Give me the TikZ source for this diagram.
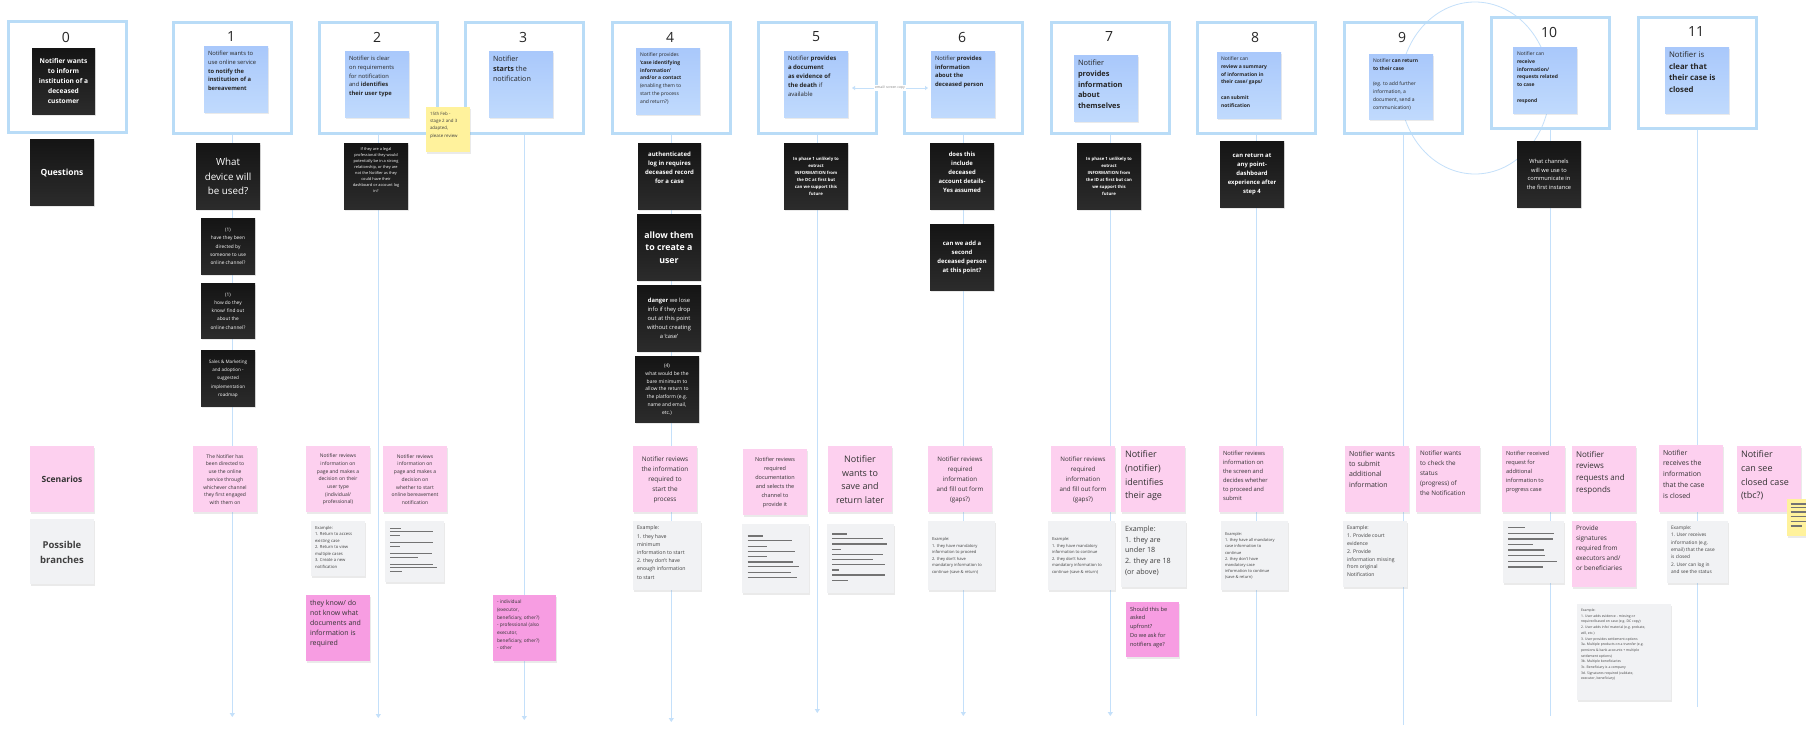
\documentclass[tikz,border=0pt]{standalone}
\usepackage{fontspec}
\setmainfont{Open Sans}
\usetikzlibrary{shadows,arrows.meta}
\definecolor{frameblue}{HTML}{B9DCF7}
\definecolor{lineblue}{HTML}{C4E0FA}
\definecolor{blueA}{HTML}{A9C8FB}
\definecolor{blueB}{HTML}{C0DAFD}
\definecolor{pinkA}{HTML}{FDD0EF}
\definecolor{hotpink}{HTML}{F79DE2}
\definecolor{grayN}{HTML}{F1F2F4}
\definecolor{yellowN}{HTML}{FFF29C}
\newcommand{\fs}[2]{\fontsize{#1}{#2}\selectfont}
\newcommand{\stk}[8]{\node[#1, anchor=north west, minimum width=#5pt, minimum height=#6pt, inner sep=0pt, outer sep=0pt] (#2) at (#3,#4) {\parbox[c][#6pt][#7]{#5pt}{\centering\vspace*{5pt}\parbox{\dimexpr#5pt-8pt\relax}{#8}\par\vspace*{4pt}}};}
\tikzset{
 frame/.style={draw=frameblue, line width=2.6pt, inner sep=0pt, anchor=north west, minimum width=118pt, minimum height=111pt},
 num/.style={font=\fs{14}{16}, text=black!85},
 tl/.style={draw=lineblue, line width=0.9pt},
 tla/.style={tl, -{Triangle[width=5pt,length=4pt]}},
 shd/.style={drop shadow={shadow xshift=0.6pt, shadow yshift=-1.6pt, opacity=0.16}},
 blk/.style={shd, top color=black!92, bottom color=black!83, text=white},
 blu/.style={shd, top color=blueA, bottom color=blueB, text=black!85},
 pnk/.style={shd, fill=pinkA, text=black!80},
 hpk/.style={shd, fill=hotpink, text=black!80},
 gry/.style={shd, fill=grayN, text=black!75},
 yel/.style={shd, fill=yellowN, text=black!75},
 ph/.style={draw=black!55, line width=1.1pt},
}
\begin{document}
\begin{tikzpicture}[x=1pt,y=-1pt]
\fill[white] (0,0) rectangle (1806,731);
\useasboundingbox (0,0) rectangle (1806,731);
% ellipse
\draw[tl, line width=0.8pt] (1475,88) ellipse [x radius=75pt, y radius=86pt];
% frames
\node[frame] (f0) at (7,20) {};
\node[frame] (f1) at (172,21) {};
\node[frame] (f2) at (318,21) {};
\node[frame] (f3) at (464,21) {};
\node[frame] (f4) at (611,21) {};
\node[frame] (f5) at (757,21) {};
\node[frame] (f6) at (903,21) {};
\node[frame] (f7) at (1050,21) {};
\node[frame] (f8) at (1196,21) {};
\node[frame] (f9) at (1343,21) {};
\node[frame] (f10) at (1490,16) {};
\node[frame] (f11) at (1637,16) {};
\node[num] (n0) at (66,37) {0};
\node[num] (n1) at (231,37) {1};
\node[num] (n2) at (377,37) {2};
\node[num] (n3) at (523,37) {3};
\node[num] (n4) at (670,37) {4};
\node[num] (n5) at (816,37) {5};
\node[num] (n6) at (962,37) {6};
\node[num] (n7) at (1109,37) {7};
\node[num] (n8) at (1255,37) {8};
\node[num] (n9) at (1402,37) {9};
\node[num] (n10) at (1549,32) {10};
\node[num] (n11) at (1696,32) {11};
% timeline ends
\coordinate (e1) at (0,717);
\coordinate (e2) at (0,718);
\coordinate (e3) at (0,720);
\coordinate (e4) at (0,722);
\coordinate (e5) at (0,713);
\coordinate (e6) at (0,716);
\coordinate (e7) at (0,716);
\coordinate (e8) at (0,716);
\coordinate (e9) at (0,725);
\coordinate (e10) at (0,716);
\coordinate (e11) at (0,707);
\draw[tla] (f1.south) -- (f1.south |- e1);
\draw[tla] (f2.south) -- (f2.south |- e2);
\draw[tla] (f3.south) -- (f3.south |- e3);
\draw[tla] (f4.south) -- (f4.south |- e4);
\draw[tla] (f5.south) -- (f5.south |- e5);
\draw[tla] (f6.south) -- (f6.south |- e6);
\draw[tla] (f7.south) -- (f7.south |- e7);
\draw[tl] (f8.south) -- (f8.south |- e8);
\draw[tl] (f9.south) -- (f9.south |- e9);
\draw[tl] (f10.south) -- (f10.south |- e10);
\draw[tl] (f11.south) -- (f11.south |- e11);
% top notes
\stk{blk}{b0}{32}{48}{63}{66}{c}{\centering\fs{6.6}{10}\bfseries Notifier wants\\to inform\\institution of a\\deceased\\customer}
\stk{blu}{b1}{204}{46}{64}{66}{t}{\raggedright\fs{5.8}{8.8}Notifier wants to\\use online service\\\textbf{to notify the\\institution of a\\bereavement}}
\stk{blu}{b2}{345}{51}{64}{66}{t}{\raggedright\fs{5.8}{8.8}Notifier is clear\\on requirements\\for notification\\and \textbf{identifies}\\\textbf{their user type}}
\stk{blu}{b3}{489}{51}{64}{66}{t}{\raggedright\fs{7.2}{10}Notifier\\\textbf{starts} the\\notification}
\stk{blu}{b4}{636}{48}{64}{66}{t}{\raggedright\fs{5}{7.7}Notifier provides\\\textbf{`case identifying}\\\textbf{information'}\\\textbf{and/or a contact}\\(enabling them to\\start the process\\and return?)}
\stk{blu}{b5}{784}{51}{64}{66}{t}{\raggedright\fs{6}{9}Notifier \textbf{provides}\\\textbf{a document}\\\textbf{as evidence of}\\\textbf{the death} if\\available}
\stk{blu}{b6}{931}{51}{64}{66}{t}{\raggedright\fs{5.8}{8.7}Notifier \textbf{provides}\\\textbf{information}\\\textbf{about the}\\\textbf{deceased person}}
\stk{blu}{b7}{1074}{55}{64}{66}{t}{\raggedright\fs{7.4}{10.7}Notifier\\\textbf{provides}\\\textbf{information}\\\textbf{about}\\\textbf{themselves}}
\stk{blu}{b8}{1217}{52}{64}{66}{t}{\raggedright\fs{5}{7.7}Notifier can\\\textbf{review a summary}\\\textbf{of information in}\\\textbf{their case/ gaps/}\\[7.7pt]\textbf{can submit}\\\textbf{notification}}
\stk{blu}{b9}{1369}{54}{64}{65}{t}{\raggedright\fs{5}{7.7}Notifier \textbf{can return}\\\textbf{to their case}\\[7.7pt](eg. to add further\\information, a\\document, send a\\communication)}
\stk{blu}{b10}{1513}{47}{64}{66}{t}{\raggedright\fs{5}{7.7}Notifier can\\\textbf{receive}\\\textbf{information/}\\\textbf{requests related}\\\textbf{to case}\\[7.7pt]\textbf{respond}}
\stk{blu}{b11}{1665}{47}{64}{66}{t}{\raggedright\fs{7.8}{11.5}Notifier is\\\textbf{clear that}\\\textbf{their case is}\\\textbf{closed}}
\stk{yel}{y1}{426}{107}{44}{45}{t}{\raggedright\fs{4.4}{7.3}15th Feb -\\stage 2 and 3\\adapted,\\please review}
\draw[tl, <->, >={Triangle[width=4pt,length=3pt]}] ([xshift=4pt,yshift=-4pt]b5.east) -- ([xshift=-3pt,yshift=-4pt]b6.west) node[midway, fill=white, inner sep=1pt, text=black!50, font=\fs{3.4}{4}] (lbl56) {email/ screen copy};
% questions
\stk{blk}{qs}{30}{139}{64}{66}{c}{\centering\fs{8.5}{11}\bfseries Questions}
\stk{blk}{q1a}{196}{143}{64}{66}{c}{\centering\fs{9.8}{14.3}What\\device will\\be used?}
\stk{blk}{q1b}{201}{218}{54}{56}{c}{\centering\fs{4.8}{8.3}(1)\\have they been\\directed by\\someone to use\\online channel?}
\stk{blk}{q1c}{201}{283}{54}{55}{c}{\centering\fs{4.8}{8.3}(1)\\how do they\\know/ find out\\about the\\online channel?}
\stk{blk}{q1d}{201}{350}{54}{56}{c}{\centering\fs{4.6}{8.3}Sales \& Marketing\\and adoption -\\suggested\\implementation\\roadmap}
\stk{blk}{q2}{344}{143}{64}{66}{t}{\centering\fs{3.9}{6}If they are a legal\\professional they would\\potentially be in a strong\\relationship, or they are\\not the Notifier as they\\could have their\\dashboard or account log\\in?}
\stk{blk}{q4a}{638}{143}{63}{66}{t}{\centering\fs{6}{9}\bfseries\vspace*{4pt}authenticated\\log in requires\\deceased record\\for a case}
\stk{blk}{q4b}{637}{214}{64}{66}{c}{\centering\fs{8.8}{12.7}\bfseries allow them\\to create a\\user}
\stk{blk}{q4c}{637}{285}{64}{66}{c}{\centering\fs{5.8}{9}\textbf{danger} we lose\\info if they drop\\out at this point\\without creating\\a `case'}
\stk{blk}{q4d}{635}{356}{64}{66}{c}{\centering\fs{5}{7.7}(4)\\what would be the\\bare minimum to\\allow the return to\\the platform (e.g.\\name and email,\\etc.)}
\stk{blk}{q5}{784}{143}{64}{66}{c}{\centering\fs{4.3}{7}\bfseries In phase 1 unlikely to\\extract\\INFORMATION from\\the DC at first but\\can we support this\\future}
\stk{blk}{q6a}{930}{143}{64}{66}{t}{\centering\fs{5.9}{9}\bfseries\vspace*{4pt}does this\\include\\deceased\\account details-\\Yes assumed}
\stk{blk}{q6b}{930}{224}{64}{66}{c}{\centering\fs{5.9}{9}\bfseries can we add a\\second\\deceased person\\at this point?}
\stk{blk}{q7}{1077}{143}{64}{66}{c}{\centering\fs{4.3}{7}\bfseries In phase 1 unlikely to\\extract\\INFORMATION from\\the ID at first but can\\we support this\\future}
\stk{blk}{q8}{1220}{141}{64}{66}{c}{\centering\fs{5.9}{9}\bfseries can return at\\any point-\\dashboard\\experience after\\step 4}
\stk{blk}{q10}{1517}{141}{64}{66}{c}{\centering\fs{5.7}{8.7}What channels\\will we use to\\communicate in\\the first instance}
% scenarios
\stk{pnk}{sc}{30}{446}{64}{66}{c}{\centering\fs{8.5}{12}\bfseries Scenarios}
\stk{gry}{pb}{30}{519}{64}{65}{c}{\centering\fs{9.5}{15}\bfseries Possible\\branches}
\stk{pnk}{s1}{193}{446}{64}{66}{c}{\centering\fs{5}{7.7}The Notifier has\\been directed to\\use the online\\service through\\whichever channel\\they first engaged\\with them on}
\stk{pnk}{s2a}{306}{446}{64}{66}{c}{\centering\fs{5}{7.7}Notifier reviews\\information on\\page and makes a\\decision on their\\user type\\(individual/\\professional)}
\stk{pnk}{s2b}{383}{446}{64}{66}{c}{\centering\fs{5}{7.7}Notifier reviews\\information on\\page and makes a\\decision on\\whether to start\\online bereavement\\notification}
\stk{pnk}{s4}{633}{446}{64}{66}{c}{\centering\fs{6.4}{10}Notifier reviews\\the information\\required to\\start the\\process}
\stk{pnk}{s5a}{743}{449}{64}{66}{c}{\centering\fs{5.5}{9}Notifier reviews\\required\\documentation\\and selects the\\channel to\\provide it}
\stk{pnk}{s5b}{828}{446}{64}{66}{c}{\centering\fs{9}{13.7}Notifier\\wants to\\save and\\return later}
\stk{pnk}{s6}{928}{446}{64}{66}{c}{\centering\fs{6.2}{10}Notifier reviews\\required\\information\\and fill out form\\(gaps?)}
\stk{pnk}{s7a}{1051}{446}{64}{66}{c}{\centering\fs{6.2}{10}Notifier reviews\\required\\information\\and fill out form\\(gaps?)}
\stk{pnk}{s7b}{1121}{446}{64}{66}{t}{\raggedright\fs{9}{13.7}Notifier\\(notifier)\\identifies\\their age}
\stk{pnk}{s8}{1219}{446}{64}{66}{t}{\raggedright\fs{5.8}{9}Notifier reviews\\information on\\the screen and\\decides whether\\to proceed and\\submit}
\stk{pnk}{s9a}{1345}{446}{64}{66}{t}{\raggedright\fs{7}{10.3}Notifier wants\\to submit\\additional\\information}
\stk{pnk}{s9b}{1416}{446}{64}{66}{t}{\raggedright\fs{6.3}{10}Notifier wants\\to check the\\status\\(progress) of\\the Notification}
\stk{pnk}{s10a}{1502}{446}{63}{66}{t}{\raggedright\fs{5.6}{9}Notifier received\\request for\\additional\\information to\\progress case}
\stk{pnk}{s10b}{1572}{446}{64}{66}{t}{\raggedright\fs{8}{11.7}Notifier\\reviews\\requests and\\responds}
\stk{pnk}{s11a}{1659}{445}{64}{67}{t}{\raggedright\fs{6.9}{10.7}Notifier\\receives the\\information\\that the case\\is closed}
\stk{pnk}{s11b}{1737}{446}{64}{66}{t}{\raggedright\fs{9}{13.7}Notifier\\can see\\closed case\\(tbc?)}
% branches
\stk{gry}{g2a}{311}{521}{54}{55}{t}{\raggedright\fs{4.2}{6.5}Example:\\1. Return to access\\existing case\\2. Return to view\\multiple cases\\3. Create a new\\notification}
\stk{gry}{g2b}{385}{521}{59}{61}{t}{}
\foreach \dy/\len in {7.3/11,10.7/43,14.7/10,21.7/43,25.7/10,32.3/42,36.3/28,43.3/43,46.7/47,50.7/12}
  \draw[ph] ([xshift=5pt,yshift=-\dy pt]g2b.north west) -- ++(\len,0);
\stk{gry}{g4}{633}{521}{68}{69}{t}{\raggedright\fs{5.2}{8.2}Example:\\1. they have\\minimum\\information to start\\2. they don't have\\enough information\\to start}
\stk{gry}{g5a}{742}{524}{67}{69}{t}{}
\foreach \dy/\len in {12/15.7,16.7/44,22.7/19,27.7/47,32.7/19,38/45.7,42.7/51.7,48.3/43,53.3/49}
  \draw[ph] ([xshift=5.7pt,yshift=-\dy pt]g5a.north west) -- ++(\len,0);
\stk{gry}{g5b}{827}{524}{67}{69}{t}{}
\foreach \dy/\len in {10/15,14.7/50.3,20/55,25.3/8.3,30.3/50.3,35.3/40.3,40.3/53,46/7,51/53,56.3/16}
  \draw[ph] ([xshift=5.3pt,yshift=-\dy pt]g5b.north west) -- ++(\len,0);
\stk{gry}{g6}{928}{521}{67}{69}{c}{\raggedright\fs{4.1}{6.5}Example:\\1. they have mandatory\\information to proceed\\2. they don't have\\mandatory information to\\continue (save \& return)}
\stk{gry}{g7a}{1048}{521}{67}{69}{c}{\raggedright\fs{4.1}{6.5}Example:\\1. they have mandatory\\information to continue\\2. they don't have\\mandatory information to\\continue (save \& return)}
\stk{gry}{g7b}{1121}{521}{65}{66}{t}{\raggedright\fs{7.2}{10.7}Example:\\1. they are\\under 18\\2. they are 18\\(or above)}
\stk{gry}{g8}{1221}{521}{67}{69}{c}{\raggedright\fs{4}{6.2}Example:\\1. they have all mandatory\\case information to\\continue\\2. they don't have\\mandatory case\\information to continue\\(save \& return)}
\stk{gry}{g9a}{1343}{521}{64}{66}{t}{\raggedright\fs{5.1}{7.8}Example:\\1. Provide court\\evidence\\2. Provide\\information missing\\from original\\Notification}
\stk{gry}{g10a}{1503}{521}{61}{62}{t}{}
\foreach \dy/\len in {6.7/16.7,12.3/45.7,18/44.3,23.7/25,29/36,34.7/36.7,40.7/49,46/34.3}
  \draw[ph] ([xshift=5.3pt,yshift=-\dy pt]g10a.north west) -- ++(\len,0);
\stk{pnk}{p10c}{1572}{521}{64}{66}{t}{\raggedright\fs{6.4}{10}Provide\\signatures\\required from\\executors and/\\or beneficiaries}
\stk{gry}{g10c}{1577}{604}{94}{96}{t}{\raggedright\fs{3.4}{5.7}Example:\\1. User adds evidence - missing or\\required based on case (e.g. DC copy)\\2. User adds info/ material (e.g. probate,\\will, etc.)\\3. User provides settlement options\\3a. Multiple products on a transfer (e.g.\\pensions \& bank accounts + multiple\\settlement options)\\3b. Multiple beneficiaries\\3c. Beneficiary is a company\\3d. Signatures required (validate,\\executor, beneficiary)}
\stk{gry}{g11a}{1667}{521}{61}{62}{t}{\raggedright\fs{4.8}{7.3}Example:\\1. User receives\\information (e.g.\\email) that the case\\is closed\\2. User can log in\\and see the status}
% hot pink
\stk{hpk}{h2}{306}{595}{64}{66}{t}{\raggedright\fs{7}{10}they know/ do\\not know what\\documents and\\information is\\required}
\stk{hpk}{h3}{493}{595}{63}{66}{t}{\raggedright\fs{4.8}{7.7}- individual\\(executor,\\beneficiary, other?)\\- professional (also\\executor,\\beneficiary, other?)\\- other}
\stk{hpk}{h7}{1126}{602}{53}{55}{t}{\raggedright\fs{5.6}{8.7}Should this be\\asked\\upfront?\\Do we ask for\\notifiers age?}
\stk{yel}{y2}{1787}{499}{19}{37}{t}{}
\foreach \dy/\len in {5/15,8.3/15,13/15,17.7/15,22.3/15,27/11}
  \draw[ph] ([xshift=3.7pt,yshift=-\dy pt]y2.north west) -- ++(\len,0);
\end{tikzpicture}
\end{document}
